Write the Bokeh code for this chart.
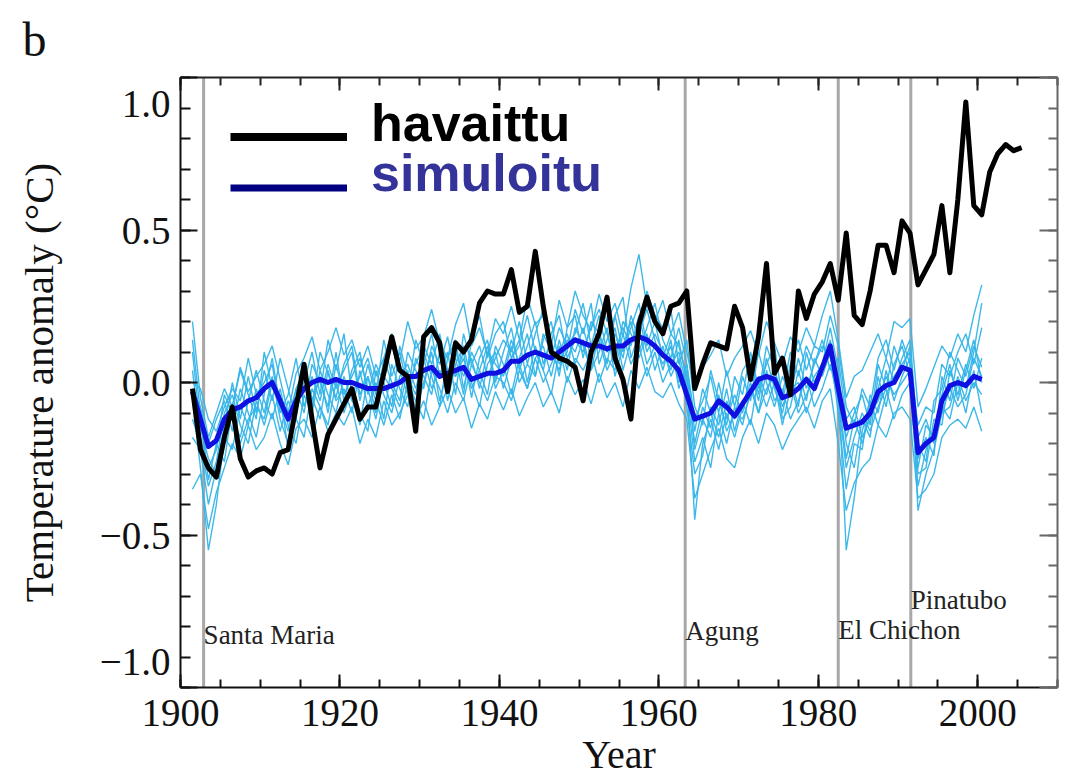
import math
from bokeh.plotting import figure
from bokeh.models import (LinearAxis, FixedTicker, Span, Legend, LegendItem, Range1d)
from bokeh.core.properties import value
from bokeh.embed import file_html
from bokeh.resources import INLINE

# ---------------- data ----------------
obs_years = list(range(1901, 2006))
obs_values = [
    -0.02, -0.22, -0.28, -0.31, -0.18, -0.08, -0.25, -0.31, -0.29,
    -0.28, -0.30, -0.23, -0.22, -0.08, 0.06, -0.12, -0.28, -0.17, -0.12,
    -0.07, -0.02, -0.12, -0.08, -0.08, 0.03, 0.15, 0.04, 0.02, -0.16,
    0.15, 0.18, 0.13, -0.03, 0.13, 0.10, 0.14, 0.26, 0.30, 0.29,
    0.29, 0.37, 0.23, 0.25, 0.43, 0.25, 0.10, 0.08, 0.07, 0.05,
    -0.06, 0.10, 0.16, 0.28, 0.08, 0.01, -0.12, 0.19, 0.28, 0.20,
    0.16, 0.25, 0.26, 0.30, -0.02, 0.06, 0.13, 0.12, 0.11, 0.25,
    0.18, 0.01, 0.15, 0.39, 0.03, 0.08, -0.04, 0.30, 0.21, 0.29,
    0.33, 0.39, 0.27, 0.49, 0.22, 0.19, 0.30, 0.45, 0.45, 0.36,
    0.53, 0.49, 0.32, 0.37, 0.42, 0.58, 0.36, 0.60, 0.92, 0.58,
    0.55, 0.69, 0.75, 0.78, 0.76, 0.77,
]

sim_years = list(range(1901, 2001))
sim_mean = [
    -0.03, -0.12, -0.21, -0.19, -0.12, -0.09, -0.08, -0.06, -0.05,
    -0.02, 0.00, -0.06, -0.12, -0.06, -0.02, 0.00, 0.01, 0.00, 0.01,
    0.00, 0.00, -0.01, -0.02, -0.02, -0.02, -0.01, 0.00, 0.02, 0.02,
    0.04, 0.05, 0.02, 0.03, 0.04, 0.05, 0.01, 0.02, 0.03, 0.03,
    0.04, 0.07, 0.07, 0.09, 0.10, 0.09, 0.08, 0.10, 0.12, 0.14,
    0.13, 0.12, 0.12, 0.11, 0.12, 0.12, 0.14, 0.15, 0.14, 0.12,
    0.09, 0.07, 0.04, -0.04, -0.12, -0.11, -0.10, -0.06, -0.08, -0.11,
    -0.07, -0.03, 0.01, 0.02, 0.01, -0.05, -0.04, -0.02, 0.01, -0.02,
    0.05, 0.12, -0.02, -0.15, -0.14, -0.13, -0.10, -0.03, -0.01, 0.00,
    0.05, 0.04, -0.23, -0.20, -0.18, -0.06, -0.01, 0.00, -0.01, 0.02,
    0.01,
]

member_a = [
    0.20, -0.05, -0.18, -0.10, -0.02, -0.08, 0.05, -0.03, 0.02,
    0.06, 0.12, 0.01, -0.10, 0.03, 0.08, 0.15, 0.04, 0.10, 0.18,
    0.09, 0.14, 0.05, 0.12, 0.02, 0.08, 0.16, 0.07, 0.20, 0.11,
    0.15, 0.24, 0.13, 0.08, 0.19, 0.26, 0.12, 0.18, 0.09, 0.21,
    0.16, 0.25, 0.14, 0.28, 0.19, 0.22, 0.12, 0.27, 0.18, 0.30,
    0.22, 0.17, 0.29, 0.20, 0.26, 0.15, 0.31, 0.42, 0.25, 0.20,
    0.27, 0.16, 0.23, 0.10, -0.02, 0.05, 0.09, 0.14, 0.02, 0.08,
    0.12, 0.17, 0.09, 0.20, 0.13, 0.06, 0.15, 0.10, 0.18, 0.12,
    0.22, 0.30, 0.14, -0.05, 0.02, 0.04, 0.10, 0.16, 0.08, 0.20,
    0.18, 0.21, -0.08, -0.02, 0.05, 0.12, 0.08, 0.16, 0.10, 0.22,
    0.32,
]
member_b = [
    -0.35, -0.30, -0.48, -0.36, -0.28, -0.20, -0.25, -0.14, -0.22,
    -0.18, -0.10, -0.20, -0.27, -0.15, -0.12, -0.18, -0.08, -0.16, -0.10,
    -0.14, -0.08, -0.20, -0.12, -0.18, -0.06, -0.14, -0.10, -0.04, -0.12,
    -0.06, -0.14, -0.08, -0.02, -0.10, -0.05, -0.15, -0.07, -0.12, -0.03,
    -0.09, -0.02, -0.11, -0.05, 0.00, -0.08, -0.03, -0.10, 0.02, -0.04,
    0.01, -0.07, 0.03, -0.05, 0.00, -0.08, 0.04, -0.02, 0.05, -0.03,
    -0.05, 0.00, -0.07, -0.12, -0.38, -0.30, -0.22, -0.15, -0.25, -0.28,
    -0.18, -0.12, -0.20, -0.10, -0.14, -0.22, -0.16, -0.12, -0.08, -0.15,
    -0.06, -0.02, -0.20, -0.42, -0.33, -0.28, -0.25, -0.14, -0.18, -0.10,
    -0.08, -0.12, -0.38, -0.35, -0.30, -0.18, -0.14, -0.12, -0.15, -0.08,
    -0.16,
]
member_c = [
    0.10, -0.15, -0.25, -0.30, -0.15, 0.00, -0.12, 0.02, -0.10,
    0.04, -0.06, 0.08, -0.02, -0.12, 0.05, -0.08, 0.10, 0.03, -0.05,
    0.06, 0.12, -0.04, 0.02, -0.10, 0.08, 0.00, -0.06, 0.10, 0.04,
    -0.02, 0.12, 0.06, 0.15, 0.02, 0.10, -0.05, 0.08, 0.14, 0.00,
    0.10, 0.18, 0.04, 0.12, 0.20, 0.06, 0.14, 0.02, 0.18, 0.22,
    0.08, 0.20, 0.16, 0.06, 0.22, 0.10, 0.18, 0.26, 0.12, 0.20,
    0.08, 0.16, 0.12, 0.02, -0.20, -0.08, -0.15, 0.00, -0.12, -0.04,
    -0.10, 0.04, -0.06, 0.08, -0.02, -0.10, 0.02, -0.08, 0.10, 0.00,
    0.06, 0.18, 0.04, -0.20, -0.28, -0.12, -0.18, 0.02, -0.08, 0.06,
    0.12, 0.02, -0.25, -0.18, -0.24, 0.02, -0.06, 0.08, 0.02, 0.12,
    0.05,
]
member_d = [
    -0.05, -0.28, -0.55, -0.40, -0.18, -0.22, -0.08, -0.14, -0.02,
    -0.10, 0.02, -0.12, -0.20, -0.08, 0.02, -0.05, -0.12, 0.04, -0.06,
    -0.02, -0.10, 0.04, -0.08, 0.00, -0.12, 0.06, -0.02, -0.08, 0.08,
    0.02, -0.04, 0.10, -0.06, 0.06, 0.12, 0.00, -0.08, 0.06, 0.10,
    -0.02, 0.08, 0.14, 0.00, 0.12, 0.04, -0.04, 0.10, 0.16, 0.06,
    0.14, 0.04, 0.10, 0.18, 0.02, 0.12, 0.20, 0.08, 0.16, 0.04,
    0.12, 0.02, 0.08, -0.08, -0.30, -0.24, -0.08, -0.14, -0.02, -0.16,
    -0.06, -0.14, 0.02, -0.04, 0.06, -0.12, -0.08, 0.04, -0.06, 0.08,
    0.02, 0.10, -0.10, -0.35, -0.20, -0.22, -0.04, -0.10, 0.04, -0.06,
    0.02, 0.08, -0.30, -0.28, -0.12, -0.14, 0.04, -0.04, 0.06, -0.02,
    0.08,
]
member_e = [
    -0.02, -0.08, -0.20, -0.12, -0.06, -0.16, -0.02, -0.10, -0.18,
    -0.04, 0.08, -0.08, -0.16, -0.02, -0.10, 0.06, 0.00, -0.08, 0.10,
    -0.06, 0.04, 0.10, -0.04, 0.06, 0.00, -0.08, 0.12, 0.02, -0.04,
    0.10, 0.02, -0.08, 0.08, 0.14, -0.02, 0.10, 0.04, -0.04, 0.12,
    0.06, -0.04, 0.08, 0.16, 0.02, 0.14, 0.20, 0.06, 0.10, 0.24,
    0.16, 0.26, 0.06, 0.14, 0.22, 0.28, 0.08, 0.16, 0.24, 0.14,
    0.04, 0.14, -0.02, 0.06, -0.16, -0.02, -0.10, -0.18, -0.06, -0.12,
    0.02, -0.06, 0.10, 0.00, -0.08, 0.02, -0.04, 0.08, -0.02, 0.06,
    0.14, 0.04, 0.08, -0.12, -0.08, -0.18, -0.12, -0.02, 0.08, 0.00,
    0.08, 0.14, -0.18, -0.12, -0.20, -0.04, 0.06, -0.06, 0.04, 0.14,
    0.00,
]
member_f = [
    -0.12, -0.20, -0.34, -0.26, -0.10, -0.04, -0.14, -0.20, -0.06,
    -0.14, -0.04, -0.16, -0.06, -0.12, -0.18, -0.02, -0.08, -0.14, 0.00,
    -0.10, -0.02, -0.14, 0.02, -0.06, -0.14, -0.04, -0.12, 0.00, -0.06,
    -0.12, 0.04, -0.02, -0.10, 0.00, -0.06, 0.06, 0.00, -0.06, 0.02,
    0.00, -0.06, 0.04, -0.02, 0.08, 0.00, 0.06, 0.12, 0.00, 0.08,
    0.04, 0.10, 0.00, 0.08, 0.04, 0.16, 0.06, 0.12, 0.02, 0.10,
    0.00, 0.06, 0.10, -0.02, -0.26, -0.18, -0.28, -0.10, -0.20, -0.08,
    -0.14, -0.02, -0.10, 0.04, -0.06, -0.02, -0.12, -0.06, 0.02, -0.08,
    -0.02, 0.06, -0.06, -0.28, -0.18, -0.10, -0.16, -0.08, -0.02, -0.12,
    -0.04, 0.00, -0.34, -0.22, -0.16, -0.08, -0.12, 0.00, -0.10, 0.04,
    -0.10,
]
member_g = [
    0.14, -0.10, -0.32, -0.20, -0.26, -0.08, 0.04, -0.04, -0.12,
    0.10, -0.02, -0.04, -0.22, -0.06, 0.00, 0.10, -0.04, 0.14, 0.04,
    0.16, -0.04, 0.02, 0.08, -0.02, 0.04, 0.12, 0.04, -0.04, 0.14,
    0.06, 0.16, 0.02, 0.10, -0.04, 0.16, 0.06, 0.12, 0.02, 0.08,
    0.14, 0.10, 0.20, 0.06, 0.16, 0.24, 0.08, 0.18, 0.12, 0.16,
    0.26, 0.12, 0.22, 0.10, 0.16, 0.08, 0.22, 0.14, 0.30, 0.22,
    0.18, 0.24, 0.06, 0.14, -0.08, -0.14, 0.04, -0.06, -0.14, 0.02,
    -0.04, 0.10, -0.02, 0.06, 0.12, -0.06, 0.06, 0.14, 0.04, 0.12,
    0.10, 0.22, 0.12, -0.08, -0.14, -0.02, -0.08, 0.08, 0.14, 0.04,
    0.14, 0.06, -0.14, -0.08, -0.10, 0.06, 0.02, 0.10, 0.16, 0.06,
    0.18,
]
member_h = [
    -0.18, -0.22, -0.40, -0.28, -0.14, -0.12, -0.18, -0.06, 0.04,
    -0.06, -0.12, -0.02, -0.14, -0.20, -0.04, -0.10, 0.04, -0.04, -0.10,
    0.02, -0.06, -0.10, -0.16, 0.04, -0.04, -0.10, 0.02, 0.06, -0.02,
    0.08, -0.02, 0.04, 0.00, 0.10, 0.02, 0.08, -0.02, 0.10, 0.06,
    0.02, 0.12, 0.00, 0.06, 0.02, 0.16, 0.10, 0.04, 0.14, 0.10,
    0.18, 0.08, 0.14, 0.04, 0.10, 0.18, 0.12, 0.22, 0.10, 0.16,
    0.10, 0.04, 0.14, 0.00, -0.45, -0.20, -0.12, -0.22, -0.10, -0.18,
    -0.08, 0.00, -0.10, -0.02, 0.02, -0.08, 0.00, -0.10, -0.04, 0.02,
    0.06, 0.14, 0.00, -0.55, -0.38, -0.16, -0.06, -0.14, -0.04, 0.02,
    0.06, 0.10, -0.42, -0.30, -0.22, -0.10, -0.02, -0.08, -0.04, 0.08,
    0.02,
]
member_i = [
    0.00, -0.02, -0.12, -0.16, -0.08, -0.02, -0.06, 0.08, -0.04,
    0.00, 0.06, -0.10, -0.04, 0.08, -0.08, 0.02, -0.06, 0.06, -0.02,
    0.04, 0.10, -0.06, 0.06, -0.04, 0.14, 0.02, 0.10, -0.02, 0.06,
    0.12, 0.06, 0.16, 0.04, 0.08, -0.04, 0.14, 0.22, 0.08, 0.16,
    0.20, 0.08, 0.12, 0.22, 0.10, 0.04, 0.16, 0.22, 0.08, 0.14,
    0.10, 0.18, 0.24, 0.16, 0.06, 0.20, 0.16, 0.10, 0.18, 0.26,
    0.14, 0.08, 0.18, 0.06, -0.12, -0.06, 0.02, -0.10, 0.04, -0.08,
    0.04, 0.08, -0.04, 0.12, 0.04, -0.04, 0.10, 0.02, 0.12, 0.06,
    0.12, 0.08, -0.02, -0.18, -0.10, -0.04, -0.14, 0.06, -0.02, 0.12,
    0.04, 0.12, -0.20, -0.26, -0.06, -0.02, 0.10, 0.04, -0.02, 0.10,
    0.26,
]
member_j = [
    0.04, -0.18, -0.28, -0.22, -0.04, -0.10, -0.20, -0.12, -0.08,
    -0.12, 0.00, -0.06, -0.12, -0.02, 0.04, -0.06, 0.02, -0.10, 0.06,
    -0.04, 0.02, 0.08, -0.02, -0.12, 0.02, -0.02, -0.08, 0.04, -0.10,
    0.00, 0.10, -0.06, 0.04, 0.02, 0.08, -0.02, 0.04, 0.12, -0.02,
    0.04, 0.14, 0.06, -0.02, 0.08, 0.12, 0.02, 0.14, 0.04, 0.18,
    0.12, 0.04, 0.16, 0.10, 0.18, 0.04, 0.14, 0.18, 0.06, 0.12,
    0.06, 0.12, 0.00, 0.04, -0.22, -0.12, -0.18, -0.04, -0.16, -0.10,
    -0.12, -0.04, 0.00, -0.08, 0.00, -0.14, -0.02, 0.00, -0.10, -0.02,
    0.04, 0.12, -0.04, -0.25, -0.12, -0.20, -0.10, -0.06, 0.02, -0.04,
    0.00, 0.04, -0.28, -0.14, -0.18, -0.10, -0.08, 0.02, -0.06, 0.00,
    -0.04,
]
members = [member_a, member_b, member_c, member_d, member_e,
           member_f, member_g, member_h, member_i, member_j]

volcano_names = ["Santa Maria", "Agung", "El Chichon", "Pinatubo"]
volcano_years = [1902.9, 1963.3, 1982.5, 1991.6]
volcano_label_y = [-0.829, -0.815, -0.812, -0.713]

x_major = [1900, 1920, 1940, 1960, 1980, 2000]
x_minor = list(range(1900, 2011, 5))
y_major = [-1.0, -0.5, 0.0, 0.5, 1.0]
y_minor = [round(-1.0 + 0.1 * i, 1) for i in range(21)]
# the end labels sit inside the ends of the axis, as in the original
y_tick_text = {-1.0: "\u22121.0\n", -0.5: "\u22120.5", 0.0: "0.0",
               0.5: "0.5", 1.0: "\n1.0"}

legend_labels = ["havaittu", "simuloitu"]
panel_letter = "b"
x_title = "Year"
y_title = "Temperature anomaly (\u00b0C)"

# ---------------- figure ----------------
SERIF = "Liberation Serif"
W, H = 1060, 779
p = figure(width=W, height=H, title=panel_letter,
           x_range=Range1d(1900, 2010), y_range=Range1d(-1.0, 1.0),
           x_axis_type=None, y_axis_type=None,
           output_backend="svg", toolbar_location=None,
           min_border_left=180, min_border_right=W - 1057,
           min_border_top=77, min_border_bottom=H - 688)
p.outline_line_color = None
p.background_fill_color = "white"
p.border_fill_color = "white"
p.title.align = "left"
p.title.offset = -158
p.title.standoff = 20
p.title.vertical_align = "top"
p.title.text_font = SERIF
p.title.text_font_size = "48px"
p.title.text_font_style = "normal"
p.title.text_color = "#111111"


def style_axis(ax, major_in, minor_in, color, labels):
    ax.major_tick_in = major_in
    ax.major_tick_out = 0
    ax.minor_tick_in = minor_in
    ax.minor_tick_out = 0
    ax.axis_line_width = 2
    ax.axis_line_color = color
    ax.major_tick_line_width = 2
    ax.minor_tick_line_width = 2
    ax.major_tick_line_color = color
    ax.minor_tick_line_color = color
    if labels:
        ax.major_label_text_font = SERIF
        ax.major_label_text_font_size = "39px"
        ax.major_label_text_color = "#111111"
        ax.axis_label_text_font = SERIF
        ax.axis_label_text_font_size = "41px"
        ax.axis_label_text_font_style = "normal"
        ax.axis_label_text_color = "#111111"
    else:
        ax.major_label_text_font_size = "0px"
        ax.major_label_standoff = 0


xb = LinearAxis(ticker=FixedTicker(ticks=x_major, minor_ticks=x_minor),
                axis_label=x_title)
style_axis(xb, 13, 8, "#111111", True)
xb.axis_label_text_font_size = "40px"
xb.major_label_standoff = 12
xb.axis_label_standoff = 3
p.add_layout(xb, "below")

xt = LinearAxis(ticker=FixedTicker(ticks=x_major, minor_ticks=x_minor))
style_axis(xt, 13, 8, "#222222", False)
p.add_layout(xt, "above")

yl = LinearAxis(ticker=FixedTicker(ticks=y_major, minor_ticks=y_minor),
                axis_label=y_title)
style_axis(yl, 17, 10, "#111111", True)
yl.major_label_standoff = 10
yl.major_label_overrides = y_tick_text
yl.axis_label_standoff = 35
p.add_layout(yl, "left")

yr = LinearAxis(ticker=FixedTicker(ticks=y_major, minor_ticks=y_minor))
style_axis(yr, 18, 9, "#666666", False)
p.add_layout(yr, "right")

# volcano lines
for vy in volcano_years:
    p.add_layout(Span(location=vy, dimension="height", line_color="#a8a8a8",
                      line_width=3, level="underlay"))

# ensemble, mean, observations (annual means drawn at mid-year)
sim_x = [yy + 0.5 for yy in sim_years]
obs_x = [yy + 0.5 for yy in obs_years]
p.multi_line(xs=[sim_x] * len(members), ys=members, line_color="#33b4e8",
             line_width=1.4, line_alpha=0.95)
p.line(sim_x, sim_mean, line_color="#1010e0", line_width=5, line_join="round")
p.line(obs_x, obs_values, line_color="black", line_width=5, line_join="round")

# volcano labels
p.text(x=volcano_years, y=volcano_label_y, text=volcano_names,
       text_font=value(SERIF), text_font_size="27px", text_color="#222222",
       text_align="left", text_baseline="alphabetic")

# legend: its own glyph styles (no visible data); glyph and text are placed
# by two legends each, so the line can sit a little lower than the text centre
nan = float("nan")
leg_r1 = p.line(x=[nan], y=[nan], line_color="black", line_width=8)
leg_r2 = p.line(x=[nan], y=[nan], line_color="#000080", line_width=7)
leg_blank = p.line(x=[nan], y=[nan], line_alpha=0)


def add_legend(renderer, label, color, loc):
    lg = Legend(items=[LegendItem(label=label, renderers=[renderer])],
                location=loc, glyph_width=117, glyph_height=31,
                label_height=50, label_standoff=24, padding=0, margin=0,
                spacing=0, border_line_color=None, background_fill_alpha=0,
                label_text_font="Liberation Sans", label_text_font_style="bold",
                label_text_font_size="52px", label_text_color=color)
    p.add_layout(lg, "center")


add_legend(leg_blank, legend_labels[0], "black", (50, 534))
add_legend(leg_r1, " ", "black", (50, 526))
add_legend(leg_blank, legend_labels[1], "#333399", (50, 484))
add_legend(leg_r2, " ", "black", (50, 475))

open("out.html", "w").write(file_html(p, INLINE))
